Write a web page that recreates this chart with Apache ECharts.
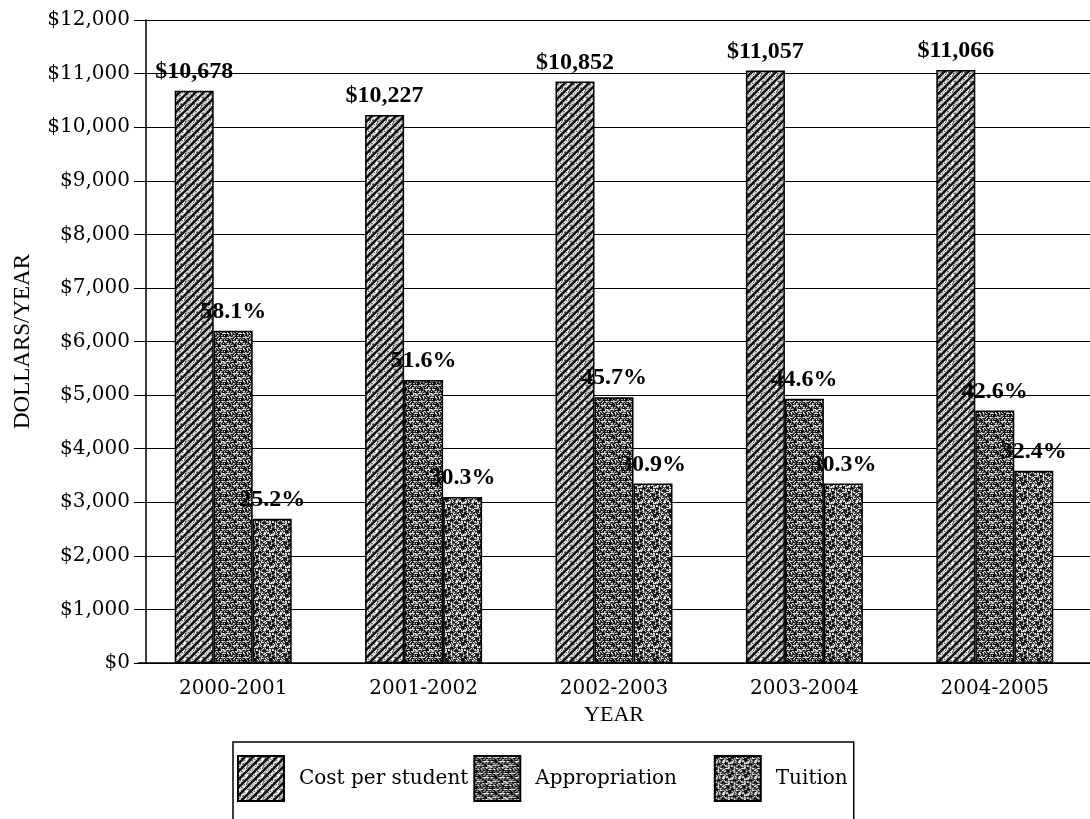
<!DOCTYPE html>
<html>
<head>
<meta charset="utf-8">
<script src="https://cdn.jsdelivr.net/npm/echarts@6/dist/echarts.min.js"></script>
<style>
html,body{margin:0;padding:0;background:#fff;}
#c{width:1090px;height:819px;}
</style>
</head>
<body>
<div id="c"></div>
<script>
// ---- data ----
var categories = ['2000-2001', '2001-2002', '2002-2003', '2003-2004', '2004-2005'];
var costPerStudent = [10678, 10227, 10852, 11057, 11066];
var appropriation = [6200, 5280, 4960, 4930, 4710];
var tuition = [2690, 3100, 3350, 3350, 3590];
var appropriationPct = ['58.1%', '51.6%', '45.7%', '44.6%', '42.6%'];
var tuitionPct = ['25.2%', '30.3%', '30.9%', '30.3%', '32.4%'];
var yTicks = { min: 0, max: 12000, interval: 1000 };
var seriesNames = ['Cost per student', 'Appropriation', 'Tuition'];

// ---- deterministic pattern tiles (style only) ----
function hash(x, y, s) {
  var h = (x * 374761393 + y * 668265263 + s * 982451653) | 0;
  h = (h ^ (h >>> 13)) * 1274126177 | 0;
  h = h ^ (h >>> 16);
  return (h >>> 0) / 4294967295;
}
function makeTile(size, painter) {
  var cv = document.createElement('canvas');
  cv.width = size; cv.height = size;
  var ctx = cv.getContext('2d');
  painter(ctx, size);
  return cv;
}
// diagonal hatch
var hatch = makeTile(16, function (ctx, n) {
  ctx.fillStyle = '#c4c4c4';
  ctx.fillRect(0, 0, n, n);
  for (var y = 0; y < n; y++) for (var x = 0; x < n; x++) {
    var v = hash(x, y, 1);
    if (v < 0.28) { ctx.fillStyle = '#fff'; ctx.fillRect(x, y, 1, 1); }
    else if (v < 0.5) { ctx.fillStyle = '#666'; ctx.fillRect(x, y, 1, 1); }
  }
  ctx.strokeStyle = '#111';
  ctx.lineWidth = 2.4;
  for (var k = -2; k <= 2; k++) {
    ctx.beginPath();
    ctx.moveTo(k * 8 - 1, n + 1);
    ctx.lineTo(k * 8 + n + 1, -1);
    ctx.stroke();
  }
});
// dense dark speckled grid
var speckle = makeTile(16, function (ctx, n) {
  ctx.fillStyle = '#3a3a3a';
  ctx.fillRect(0, 0, n, n);
  for (var y = 0; y < n; y++) for (var x = 0; x < n; x++) {
    var v = hash(x, y, 2);
    var c = v < 0.45 ? '#0a0a0a' : (v < 0.7 ? '#555' : (v < 0.85 ? '#999' : '#ddd'));
    if (y % 4 === 1 && hash(x, y, 5) < 0.45) c = '#e8e8e8';
    ctx.fillStyle = c; ctx.fillRect(x, y, 1, 1);
  }
});
// wavy squiggles, medium gray
var squiggle = makeTile(16, function (ctx, n) {
  ctx.fillStyle = '#e6e6e6';
  ctx.fillRect(0, 0, n, n);
  for (var y = 0; y < n; y++) for (var x = 0; x < n; x++) {
    var v = hash(x, y, 3);
    var w = Math.sin((x + y * 0.7) * 0.9) + Math.cos((y - x * 0.6) * 1.1);
    var c = null;
    if (w > 0.4) c = (v < 0.7 ? '#111' : '#555');
    else if (v < 0.32) c = '#333';
    else if (v < 0.55) c = '#888';
    if (c) { ctx.fillStyle = c; ctx.fillRect(x, y, 1, 1); }
  }
});

var serif = 'Liberation Serif';
var wide = 'DejaVu Serif';
var labelStyle = { show: true, position: 'top', distance: 7, color: '#000',
  fontFamily: serif, fontWeight: 'bold', fontSize: 24 };

function fmtMoney(v) { return '$' + v.toString().replace(/\B(?=(\d{3})+(?!\d))/g, ','); }

var chart = echarts.init(document.getElementById('c'));
chart.setOption({
  animation: false,
  backgroundColor: '#fff',
  grid: { left: 138, right: 0, top: 20, bottom: 156, containLabel: false },
  legend: {
    data: seriesNames,
    left: 233, top: 742,
    icon: 'rect', itemWidth: 46, itemHeight: 45, itemGap: 5,
    padding: [13, 6, 40, 4],
    borderColor: '#000', borderWidth: 1.5,
    formatter: function (name) {
      return name === seriesNames[1] ? name + '\u00a0\u00a0\u00a0\u00a0\u00a0' : name;
    },
    textStyle: { fontFamily: wide, fontSize: 20, color: '#000', padding: [0, 0, 0, 10] }
  },
  xAxis: {
    type: 'category', data: categories,
    axisLine: { lineStyle: { color: '#000', width: 1.5 } },
    axisTick: { show: false },
    axisLabel: { color: '#000', fontFamily: wide, fontSize: 20, margin: 16 },
    name: 'YEAR', nameLocation: 'middle', nameGap: 40,
    nameTextStyle: { color: '#000', fontFamily: serif, fontSize: 22 }
  },
  yAxis: {
    type: 'value', min: yTicks.min, max: yTicks.max, interval: yTicks.interval,
    offset: -8,
    axisLine: { show: true, lineStyle: { color: '#000', width: 1.5 } },
    axisTick: { show: true, length: 12, lineStyle: { color: '#000' } },
    axisLabel: { color: '#000', fontFamily: wide, fontSize: 20, margin: 16, formatter: fmtMoney },
    splitLine: { show: true, lineStyle: { color: '#000', width: 1.2 } },
    name: 'DOLLARS/YEAR', nameLocation: 'middle', nameGap: 112,
    nameTextStyle: { color: '#000', fontFamily: serif, fontSize: 23 }
  },
  series: [
    { name: seriesNames[0], type: 'bar', data: costPerStudent, barWidth: 39, barGap: '0%',
      itemStyle: { color: { image: hatch, repeat: 'repeat' }, borderColor: '#000', borderWidth: 1.5 },
      label: Object.assign({}, labelStyle, { formatter: function (p) { return fmtMoney(p.value); } }) },
    { name: seriesNames[1], type: 'bar', data: appropriation, barWidth: 39, barGap: '0%',
      itemStyle: { color: { image: speckle, repeat: 'repeat' }, borderColor: '#000', borderWidth: 1.5 },
      label: Object.assign({}, labelStyle, { formatter: function (p) { return appropriationPct[p.dataIndex]; } }) },
    { name: seriesNames[2], type: 'bar', data: tuition, barWidth: 39, barGap: '0%',
      itemStyle: { color: { image: squiggle, repeat: 'repeat' }, borderColor: '#000', borderWidth: 1.5 },
      label: Object.assign({}, labelStyle, { formatter: function (p) { return tuitionPct[p.dataIndex]; } }) }
  ]
});
</script>
</body>
</html>
